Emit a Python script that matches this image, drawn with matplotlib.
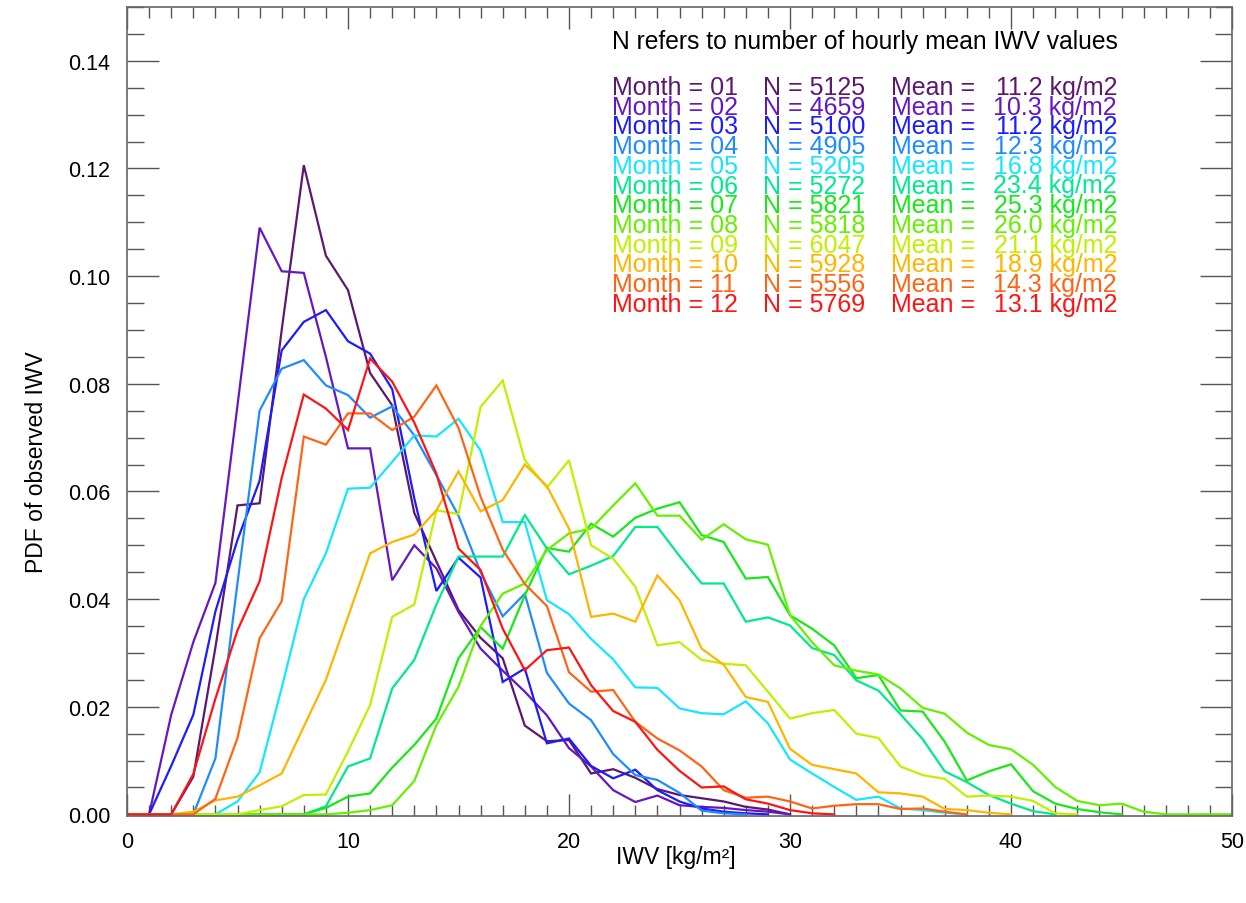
import numpy as np
import matplotlib
matplotlib.use('Agg')
import matplotlib.pyplot as plt
from matplotlib.ticker import MultipleLocator

plt.rcParams['font.family'] = ['Liberation Sans', 'DejaVu Sans']

# Monatsangaben, Anzahl der Stundenwerte und Mittelwerte (aus der Legende)
months = ['01', '02', '03', '04', '05', '06', '07', '08', '09', '10', '11', '12']
n_values = [5125, 4659, 5100, 4905, 5205, 5272, 5821, 5818, 6047, 5928, 5556, 5769]
mean_iwv = [11.2, 10.3, 11.2, 12.3, 16.8, 23.4, 25.3, 26.0, 21.1, 18.9, 14.3, 13.1]

# PDF-Werte je 1 kg/m2-Bin, beginnend bei IWV = 0
pdf_01 = [0, 0, 0, 0.007, 0.031, 0.0574, 0.0578, 0.090, 0.1206, 0.1038, 0.0974, 0.082, 0.076,
          0.056, 0.047, 0.038, 0.0328, 0.029, 0.0165, 0.0136, 0.0138, 0.0076, 0.0084, 0.0068,
          0.0047, 0.0036, 0.003, 0.0024, 0.0014, 0.0009, 0]
pdf_02 = [0, 0, 0.0185, 0.032, 0.043, 0.076, 0.109, 0.1009, 0.1006, 0.085, 0.068, 0.068, 0.0435,
          0.050, 0.0457, 0.0376, 0.0308, 0.0267, 0.0228, 0.0184, 0.0123, 0.0089, 0.0045, 0.0023,
          0.0035, 0.0017, 0.0014, 0.0012, 0.0008, 0.0005, 0]
pdf_03 = [0, 0, 0.009, 0.0185, 0.0377, 0.051, 0.062, 0.0862, 0.0915, 0.0937, 0.0879, 0.0856, 0.079,
          0.0587, 0.0415, 0.0477, 0.044, 0.0246, 0.0271, 0.0132, 0.0141, 0.009, 0.0067, 0.0083,
          0.0045, 0.0024, 0.0011, 0.0005, 0.0002, 0]
pdf_04 = [0, 0, 0, 0, 0.0104, 0.043, 0.075, 0.0828, 0.0844, 0.0797, 0.0779, 0.0737, 0.0758,
          0.0704, 0.063, 0.0555, 0.045, 0.0368, 0.041, 0.0263, 0.0206, 0.0175, 0.0112, 0.0073,
          0.0064, 0.004, 0.0007, 0.0002, 0]
pdf_05 = [0, 0, 0, 0, 0, 0.0024, 0.0078, 0.0235, 0.040, 0.0485, 0.0605, 0.0607, 0.0655, 0.0704,
          0.0702, 0.0735, 0.0676, 0.0543, 0.0543, 0.0398, 0.0372, 0.0326, 0.0288, 0.0236, 0.0235,
          0.0197, 0.0188, 0.0186, 0.021, 0.0169, 0.0102, 0.0076, 0.0051, 0.0027, 0.0033, 0.0011,
          0.0008, 0.0003, 0]
pdf_06 = [0, 0, 0, 0, 0, 0, 0, 0, 0, 0.0015, 0.0089, 0.0104, 0.0234, 0.0287, 0.039, 0.0479,
          0.0479, 0.0479, 0.0556, 0.0494, 0.0446, 0.0462, 0.048, 0.0534, 0.0534, 0.048, 0.0429,
          0.0429, 0.0358, 0.0366, 0.0351, 0.0309, 0.0296, 0.0249, 0.023, 0.0186, 0.014, 0.008,
          0.006, 0.0036, 0.002, 0.0006, 0]
pdf_07 = [0, 0, 0, 0, 0, 0, 0, 0, 0, 0.0012, 0.0033, 0.0039, 0.0087, 0.0129, 0.0178, 0.029,
          0.0348, 0.0308, 0.0407, 0.0495, 0.0488, 0.054, 0.0516, 0.0551, 0.0568, 0.058, 0.0519,
          0.0506, 0.0438, 0.0441, 0.037, 0.0345, 0.0314, 0.0253, 0.0259, 0.0193, 0.0191, 0.0135,
          0.0063, 0.008, 0.0093, 0.0043, 0.002, 0.001, 0.0004, 0]
pdf_08 = [0, 0, 0, 0, 0, 0, 0, 0, 0, 0, 0.0003, 0.0008, 0.0017, 0.0062, 0.0166, 0.0237, 0.035,
          0.041, 0.0429, 0.0491, 0.0522, 0.0531, 0.0574, 0.0615, 0.0555, 0.0555, 0.051, 0.0539,
          0.0511, 0.0501, 0.037, 0.032, 0.0277, 0.0267, 0.026, 0.0234, 0.0198, 0.0187, 0.0152,
          0.0129, 0.0121, 0.0092, 0.0051, 0.0025, 0.0017, 0.002, 0.0005, 0, 0, 0, 0]
pdf_09 = [0, 0, 0, 0, 0, 0, 0.0008, 0.0015, 0.0036, 0.0037, 0.0117, 0.0203, 0.0367, 0.039,
          0.0565, 0.0558, 0.0757, 0.0806, 0.0658, 0.0607, 0.0658, 0.050, 0.0475, 0.0423, 0.0314,
          0.032, 0.0287, 0.028, 0.0277, 0.0228, 0.0178, 0.0188, 0.0194, 0.015, 0.0142, 0.0089,
          0.0073, 0.0066, 0.0033, 0.0035, 0.0033, 0.0025, 0.0002, 0]
pdf_10 = [0, 0, 0, 0.0005, 0.0026, 0.0033, 0.0054, 0.0076, 0.0163, 0.025, 0.0367, 0.0485, 0.0506,
          0.052, 0.0565, 0.0637, 0.0563, 0.0584, 0.065, 0.061, 0.0531, 0.0367, 0.0373, 0.0358,
          0.0444, 0.0398, 0.0308, 0.0278, 0.0218, 0.0209, 0.0122, 0.0092, 0.0084, 0.0076, 0.0041,
          0.0039, 0.0033, 0.001, 0.0008, 0.0003, 0]
pdf_11 = [0, 0, 0, 0, 0.0029, 0.0142, 0.0327, 0.0396, 0.0702, 0.0687, 0.0745, 0.0745, 0.0714,
          0.0739, 0.0797, 0.0718, 0.059, 0.0492, 0.0428, 0.0387, 0.0264, 0.0228, 0.0231, 0.0172,
          0.0141, 0.0119, 0.0089, 0.0045, 0.0031, 0.0033, 0.0024, 0.0011, 0.0016, 0.0019, 0.0019,
          0.001, 0.0011, 0.0005, 0]
pdf_12 = [0, 0, 0, 0.0075, 0.0215, 0.0342, 0.0433, 0.0625, 0.078, 0.0754, 0.0714, 0.0847, 0.0804,
          0.0728, 0.0633, 0.0494, 0.0454, 0.0345, 0.0268, 0.0305, 0.031, 0.024, 0.0192, 0.0172,
          0.012, 0.0081, 0.005, 0.0052, 0.0028, 0.002, 0.0008, 0.0002, 0]

pdfs = [pdf_01, pdf_02, pdf_03, pdf_04, pdf_05, pdf_06,
        pdf_07, pdf_08, pdf_09, pdf_10, pdf_11, pdf_12]

colors = ['#5c1870', '#6418c4', '#1c1cff', '#1e8cff', '#14e6ff', '#00e890',
          '#18e818', '#64f000', '#c0f000', '#ffb400', '#ff6414', '#ff1414']

W, H = 1246, 904
fig = plt.figure(figsize=(W / 100, H / 100), dpi=100)
ax = fig.add_axes([127 / W, 1 - 817 / H, (1232 - 127) / W, (817 - 8) / H])

for pdf, c in zip(pdfs, colors):
    ax.plot(np.arange(len(pdf)), pdf, color=c, lw=1.6, solid_joinstyle='miter')

ax.set_xlim(0, 50)
ax.set_ylim(-0.0003, 0.15)
ax.xaxis.set_major_locator(MultipleLocator(10))
ax.xaxis.set_minor_locator(MultipleLocator(1))
ax.yaxis.set_major_locator(MultipleLocator(0.02))
ax.yaxis.set_minor_locator(MultipleLocator(0.005))
ax.yaxis.set_major_formatter(lambda v, p: f'{v:.2f}')

tick_col = '#555555'
ax.tick_params(axis='both', which='both', direction='in', top=True, right=True,
               color=tick_col, width=1, labelsize=15.5)
ax.tick_params(axis='x', which='major', length=16, pad=11)
ax.tick_params(axis='x', which='minor', length=8)
ax.tick_params(axis='y', which='major', length=23, pad=12)
ax.tick_params(axis='y', which='minor', length=12)
for s in ax.spines.values():
    s.set_color('#666666')
    s.set_linewidth(1.2)

ax.set_xlabel('IWV [kg/m²]', fontsize=16.5)
ax.xaxis.label.set_va('center')
ax.xaxis.set_label_coords((676 - 127) / 1105, (817 - 858) / 809)
ax.set_ylabel('PDF of observed IWV', fontsize=16.5)
ax.yaxis.label.set_va('center')
ax.yaxis.set_label_coords((37 - 127) / 1105, (817 - 462) / 809)

# Legendentext
fig.text(612 / W, 1 - 42 / H, 'N refers to number of hourly mean IWV values',
         fontsize=17.7, va='center', ha='left')
row0, dy = 88, 19.7
for i, (m, n, mv, c) in enumerate(zip(months, n_values, mean_iwv, colors)):
    y = 1 - (row0 + i * dy) / H
    fig.text(612 / W, y, f'Month = {m}', color=c, fontsize=18, va='center')
    fig.text(763 / W, y, f'N = {n}', color=c, fontsize=18, va='center')
    fig.text(891 / W, y, 'Mean =', color=c, fontsize=18, va='center')
    fig.text(1117 / W, y, f'{mv:4.1f} kg/m2', color=c, fontsize=18, va='center', ha='right')

fig.savefig('out.png', dpi=100)
